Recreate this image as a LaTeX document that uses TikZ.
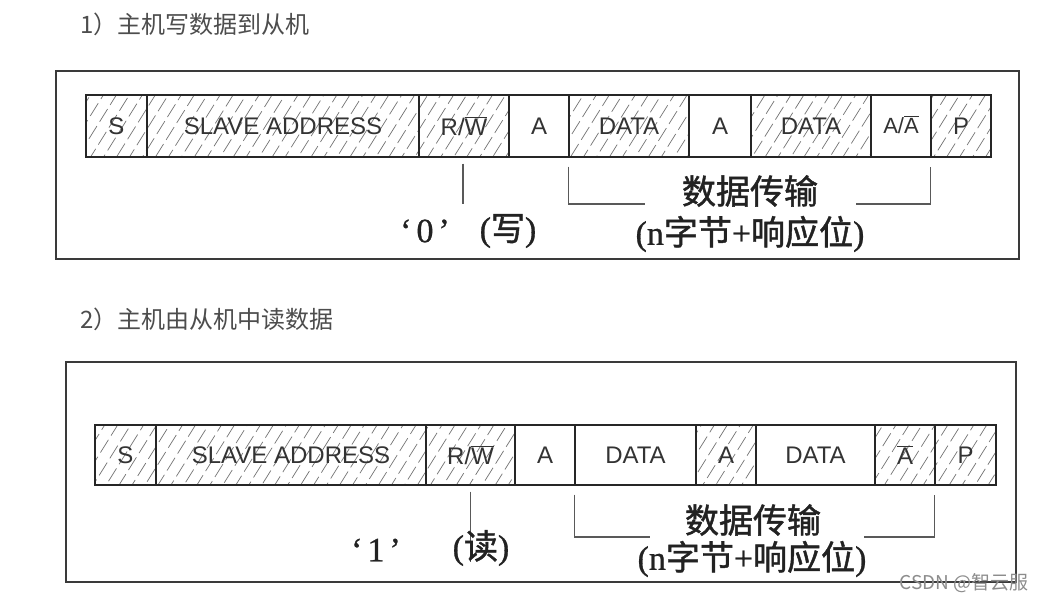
\documentclass[tikz,border=0pt]{standalone}
\usepackage{fontspec}
\setmainfont{Liberation Sans}
\newfontfamily\cjk{Noto Sans CJK SC}
\newfontfamily\cjkb{Noto Sans CJK SC}[FakeBold=1.3]
\newfontfamily\serifrm{Liberation Serif}[FakeBold=0.8]
\usetikzlibrary{patterns.meta,calc}
\newcommand\myzh[1]{{\cjkb #1}}
\newcommand\myrm[1]{{\serifrm #1}}
\newcommand\ovl[1]{$\overline{\mbox{#1}}$}
\definecolor{frame}{HTML}{3A3A3A}
\definecolor{headc}{HTML}{4D4D4D}
\definecolor{inkc}{HTML}{222222}
\pgfdeclarepattern{
  name=dashhatch,
  type=uncolored,
  bottom left={\pgfpoint{-1pt}{-1pt}},
  top right={\pgfpoint{21pt}{12pt}},
  tile size={\pgfpoint{20pt}{11pt}},
  tile transformation={\pgftransformrotate{58}},
  code={
    \pgfsetlinewidth{0.7pt}
    \pgfpathmoveto{\pgfpoint{0pt}{5pt}}
    \pgfpathlineto{\pgfpoint{15pt}{5pt}}
    \pgfusepath{stroke}
  }
}
\tikzset{
  cell/.style={draw=black!85, line width=1.3pt, inner sep=0pt, text=black!80,
    font=\fontsize{24}{24}\selectfont},
  hatch/.style={cell, pattern=dashhatch, pattern color=black!55},
  plain/.style={cell, fill=white},
  frm/.style={draw=frame, line width=1.4pt},
  tick/.style={draw=black!65, line width=1.1pt},
  brk/.style={draw=black!65, line width=1.2pt},
  big/.style={inner sep=0pt, text=inkc, font=\fontsize{34}{36}\selectfont},
  head/.style={inner sep=0pt, text=headc, font=\cjk\fontsize{24}{26}\selectfont, anchor=west},
  wm/.style={inner sep=0pt, text=black!45, font=\cjk\fontsize{19}{20}\selectfont}
}
\begin{document}
\begin{tikzpicture}[x=1pt,y=-1pt]
\useasboundingbox[fill=white] (0,0) rectangle (1045,602);

% ---------- panel 1 ----------
\node[head] (h1) at (80,24) {1）主机写数据到从机};
\draw[frm] (56,71) rectangle (1019,259);

\node[hatch, minimum width=61pt, minimum height=62pt]  (s1)  at (116.5,126) {S};
\node[hatch, minimum width=272pt, minimum height=62pt] (sa1) at (283,126)   {SLAVE ADDRESS};
\node[hatch, minimum width=90pt, minimum height=62pt]  (rw1) at (464,126)   {R/\ovl{W}};
\node[plain, minimum width=60pt, minimum height=62pt]  (a1)  at (539,126)   {A};
\node[hatch, minimum width=120pt, minimum height=62pt] (d1)  at (629,126)   {DATA};
\node[plain, minimum width=62pt, minimum height=62pt]  (b1)  at (720,126)   {A};
\node[hatch, minimum width=120pt, minimum height=62pt] (e1)  at (811,126)   {DATA};
\node[plain, minimum width=60pt, minimum height=62pt]  (c1)  at (901,126)   {\fontsize{22}{22}\selectfont\raisebox{3pt}{A/\ovl{A}}};
\node[hatch, minimum width=60pt, minimum height=62pt]  (p1)  at (961,126)   {P};

\coordinate (t1) at ($(rw1.south)+(-1,46)$);
\draw[tick] ($(rw1.south)+(-1,6)$) -- (t1);
\node[big] (q1) at (425,231) {\myrm{‘\kern5pt0\kern5pt’}};
\node[big] (w1) at (508,231) {\myrm{(}\myzh{写}\myrm{)}};

\coordinate (bl1) at (645,204);
\coordinate (br1) at (856,204);
\draw[brk] ($(d1.south west)+(0,9)$) |- (bl1);
\draw[brk] (br1) -| ($(p1.south west)+(0,9)$);
\node[big] (dt1) at (750,191) {\myzh{数据传输}};
\node[big] (nb1) at (750,234) {\myrm{(n}\myzh{字节}\myrm{+}\myzh{响应位}\myrm{)}};

% ---------- panel 2 ----------
\node[head] (h2) at (80,319) {2）主机由从机中读数据};
\draw[frm] (66,362) rectangle (1016,582);

\node[hatch, minimum width=61pt, minimum height=60pt]  (s2)  at (125.5,455) {S};
\node[hatch, minimum width=270pt, minimum height=60pt] (sa2) at (291,455)   {SLAVE ADDRESS};
\node[hatch, minimum width=89pt, minimum height=60pt]  (rw2) at (470.5,455) {R/\ovl{W}};
\node[plain, minimum width=60pt, minimum height=60pt]  (a2)  at (545,455)   {A};
\node[plain, minimum width=121pt, minimum height=60pt] (d2)  at (635.5,455) {DATA};
\node[hatch, minimum width=60pt, minimum height=60pt]  (b2)  at (726,455)   {A};
\node[plain, minimum width=119pt, minimum height=60pt] (e2)  at (815.5,455) {DATA};
\node[hatch, minimum width=60pt, minimum height=60pt]  (c2)  at (905,455)   {\ovl{A}};
\node[hatch, minimum width=61pt, minimum height=60pt]  (p2)  at (965.5,455) {P};

\coordinate (t2) at ($(rw2.south)+(0,76)$);
\draw[tick] ($(rw2.south)+(0,6)$) -- (t2);
\node[big] (q2) at (376,550) {\myrm{‘\kern5pt1\kern5pt’}};
\node[big] (w2) at (481,548) {\myrm{(}\myzh{读}\myrm{)}};

\coordinate (bl2) at (650,537);
\coordinate (br2) at (864,537);
\draw[brk] ($(d2.south west)+(0,9)$) |- (bl2);
\draw[brk] (br2) -| ($(p2.south west)+(0,9)$);
\node[big] (dt2) at (753,520) {\myzh{数据传输}};
\node[big] (nb2) at (752,559) {\myrm{(n}\myzh{字节}\myrm{+}\myzh{响应位}\myrm{)}};

\node[wm] (wm) at (964,583) {CSDN @智云服};
\end{tikzpicture}
\end{document}
